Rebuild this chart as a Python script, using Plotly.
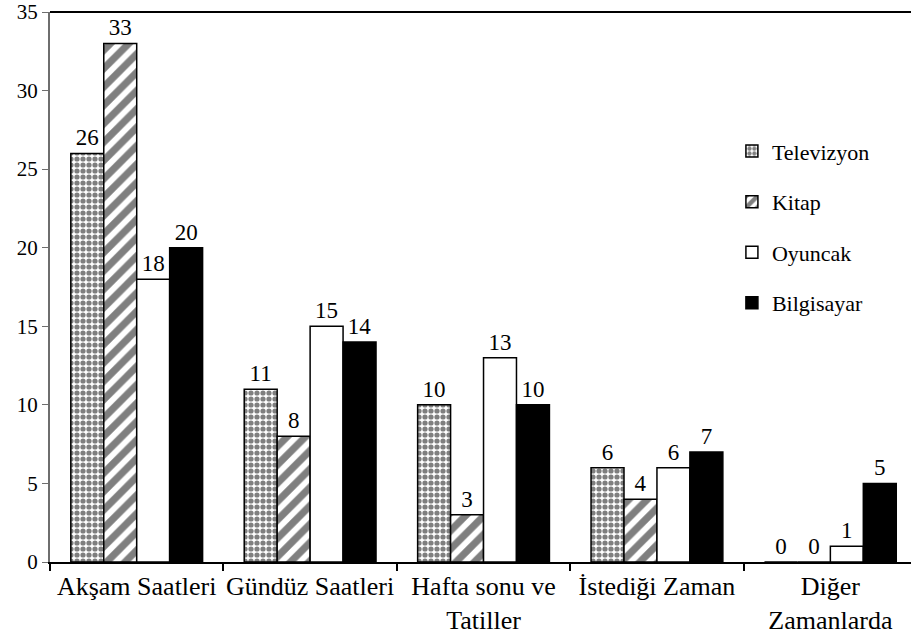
import plotly.graph_objects as go

categories = ["Akşam Saatleri", "Gündüz Saatleri", "Hafta sonu ve<br>Tatiller",
              "İstediği Zaman", "Diğer<br>Zamanlarda"]
televizyon = [26, 11, 10, 6, 0]
kitap = [33, 8, 3, 4, 0]
oyuncak = [18, 15, 13, 6, 1]
bilgisayar = [20, 14, 10, 7, 5]

font_family = "Liberation Serif"

series = [
    ("Televizyon", televizyon, dict(color="white", line=dict(color="black", width=1.5),
                                    pattern=dict(shape=".", fgcolor="black", bgcolor="white",
                                                 size=6, solidity=0.6))),
    ("Kitap", kitap, dict(color="white", line=dict(color="black", width=1.5),
                          pattern=dict(shape="/", fgcolor="black", bgcolor="white",
                                       size=13, solidity=0.55))),
    ("Oyuncak", oyuncak, dict(color="white", line=dict(color="black", width=1.5))),
    ("Bilgisayar", bilgisayar, dict(color="black", line=dict(color="black", width=1.5))),
]

fig = go.Figure()
for i, (name, vals, marker) in enumerate(series):
    fig.add_trace(go.Bar(
        x=categories, y=vals, name=name, marker=marker,
        text=[str(v) for v in vals], textposition="outside",
        textfont=dict(family=font_family, size=23, color="black"),
        cliponaxis=False, legendgroup=f"g{i}",
    ))

fig.update_layout(
    width=911, height=637,
    margin=dict(l=50, r=0, t=12, b=75),
    paper_bgcolor="white", plot_bgcolor="white",
    barmode="group", bargap=0.24, bargroupgap=0,
    font=dict(family=font_family, size=22, color="black"),
    showlegend=True,
    legend=dict(x=0.792, y=0.785, xanchor="left", yanchor="top",
                traceorder="grouped", tracegroupgap=19,
                font=dict(family=font_family, size=22, color="black"),
                itemwidth=30, bgcolor="rgba(0,0,0,0)"),
    shapes=[dict(type="line", xref="paper", yref="paper", x0=0, x1=1, y0=1, y1=1,
                 line=dict(color="black", width=2))],
)
fig.update_xaxes(
    range=[-0.5, 4.465], showline=True, linecolor="black", linewidth=2,
    ticks="outside", tickson="boundaries", ticklen=7, tickwidth=2, tickcolor="black",
    tickfont=dict(family=font_family, size=26), tickangle=0, automargin=False,
    showgrid=False, zeroline=False,
)
fig.update_yaxes(
    range=[0, 35], dtick=5, showline=True, linecolor="#6e6e6e", linewidth=2,
    ticks="outside", ticklen=6, tickwidth=1, tickcolor="#6e6e6e",
    tickfont=dict(family=font_family, size=21), automargin=False,
    showgrid=False, zeroline=False,
)

fig.write_html("out.html")
